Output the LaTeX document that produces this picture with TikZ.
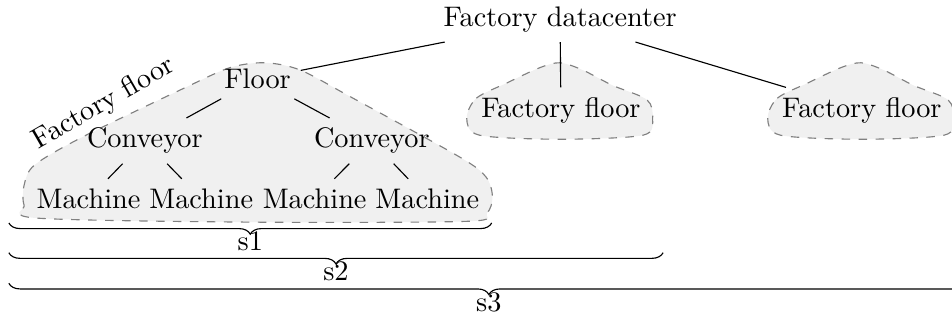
\documentclass[tikz,border=0pt]{standalone}
\usetikzlibrary{decorations.pathreplacing}
\tikzset{
  blob/.style={draw=gray,dashed,fill=black!6},
  span/.style={decorate,decoration={brace,mirror,amplitude=4pt}},
}
\begin{document}
\begin{tikzpicture}
 \useasboundingbox (0,0) rectangle (11.83,-3.97);
 % floor outlines
 \draw[blob] plot[smooth cycle,tension=0.5] coordinates {(0.46,-2.71) (0.30,-2.55) (0.30,-2.30) (0.43,-2.05) (1.03,-1.70) (2.32,-1.08) (2.86,-0.84) (3.29,-0.78) (3.73,-0.87) (4.35,-1.20) (5.71,-1.95) (6.04,-2.20) (6.12,-2.45) (6.05,-2.65) (5.80,-2.75) (3.11,-2.76)};
 \draw[blob] plot[smooth cycle,tension=0.5] coordinates {(5.80,-1.47) (5.92,-1.22) (6.30,-1.03) (6.71,-0.84) (6.96,-0.78) (7.24,-0.87) (7.61,-1.06) (8.04,-1.24) (8.11,-1.47) (7.99,-1.68) (6.96,-1.73) (5.96,-1.68)};
 \draw[blob] plot[smooth cycle,tension=0.5] coordinates {(9.54,-1.47) (9.66,-1.22) (10.04,-1.03) (10.45,-0.84) (10.70,-0.78) (10.98,-0.87) (11.35,-1.06) (11.78,-1.24) (11.85,-1.47) (11.73,-1.68) (10.70,-1.73) (9.70,-1.68)};
 \node[rotate=30] (floorlabel) at (1.29,-1.29) {Factory floor};
 % datacenter and floors
 \node (dc) at (6.96,-0.24) {Factory datacenter};
 \node (floor) at (3.20,-0.98) {Floor};
 \node (ffmid) at (6.97,-1.37) {Factory floor};
 \node (ffright) at (10.71,-1.37) {Factory floor};
 % conveyors
 \node (convl) at (1.80,-1.75) {Conveyor};
 \node (convr) at (4.62,-1.75) {Conveyor};
 % machines
 \node (m1) at (1.10,-2.47) {Machine};
 \node (m2) at (2.50,-2.47) {Machine};
 \node (m3) at (3.91,-2.47) {Machine};
 \node (m4) at (5.31,-2.47) {Machine};
 \draw (dc) -- (floor);
 \draw (dc) -- (ffmid);
 \draw (dc) -- (ffright);
 \draw (floor) -- (convl);
 \draw (floor) -- (convr);
 \draw (convl) -- (m1);
 \draw (convl) -- (m2);
 \draw (convr) -- (m3);
 \draw (convr) -- (m4);
 % spans
 \coordinate (a1) at (0.11,-2.77); \coordinate (b1) at (6.11,-2.77);
 \coordinate (a2) at (0.11,-3.14); \coordinate (b2) at (8.24,-3.14);
 \coordinate (a3) at (0.11,-3.52); \coordinate (b3) at (12.04,-3.52);
 \draw[span] (a1) -- (b1) node[midway,below=3pt,inner sep=0pt] (s1) {s1};
 \draw[span] (a2) -- (b2) node[midway,below=3pt,inner sep=0pt] (s2) {s2};
 \draw[span] (a3) -- (b3) node[midway,below=3pt,inner sep=0pt] (s3) {s3};
\end{tikzpicture}
\end{document}
